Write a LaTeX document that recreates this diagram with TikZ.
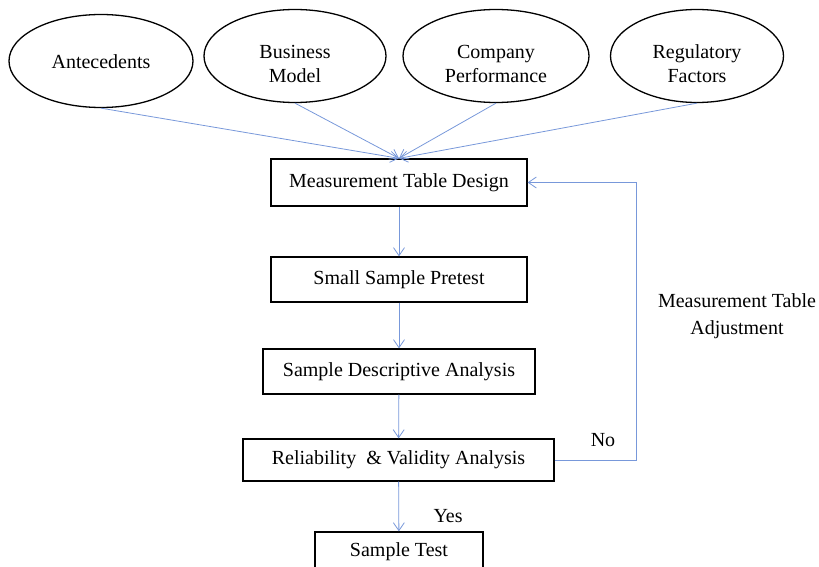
\documentclass[tikz,border=0pt]{standalone}
\usepackage{fontspec}
\setmainfont{Liberation Serif}
\usetikzlibrary{shapes.geometric,arrows.meta}
\definecolor{linkblue}{RGB}{120,152,218}
\newcommand\lowered{\rule{0pt}{30pt}}
\begin{document}
\begin{tikzpicture}[x=1pt,y=-1pt,
        factor/.style={draw, line width=1.3pt, ellipse, inner sep=0pt, minimum height=93pt, align=center, font=\fontsize{20}{24}\selectfont},
        stage/.style={draw, line width=1.3pt, inner sep=0pt, font=\fontsize{20}{24}\selectfont},
        link/.style={linkblue, line width=0.8pt, -{Straight Barb[length=8pt,width=11pt]}},
        note/.style={text=black, font=\fontsize{20}{24}\selectfont, align=center}]
            \useasboundingbox (0,0) rectangle (819,567);
            % factors
            \node[factor, minimum width=184pt] (ante) at (101,61) {\rule{0pt}{16pt}Antecedents};
            \node[factor, minimum width=182pt] (busi) at (295,56) {\lowered Business\\Model};
            \node[factor, minimum width=186pt] (perf) at (496,56) {\lowered Company\\Performance};
            \node[factor, minimum width=173pt] (regu) at (697,56) {\lowered Regulatory\\Factors};
            % stages
            \node[stage, minimum width=256pt, minimum height=47pt] (design) at (399,182.5) {Measurement Table Design};
            \node[stage, minimum width=256pt, minimum height=45pt] (pretest) at (399,279.5) {Small Sample Pretest};
            \node[stage, minimum width=272pt, minimum height=45pt] (descr) at (399,371.5) {Sample Descriptive Analysis};
            \node[stage, minimum width=311pt, minimum height=42pt] (relia) at (398.5,460) {Reliability \ \& Validity Analysis};
            \node[stage, minimum width=168pt, minimum height=40pt] (test) at (399,552) {Sample Test};
            \coordinate (loop) at (636,460);

            \foreach \f in {ante,busi,perf,regu}
                \draw[link] (\f.south) -- (design.north);
            \draw[link] (design) -- (pretest);
            \draw[link] (pretest) -- (descr);
            \draw[link] (descr) -- (relia);
            \draw[link] (relia) -- (test) node[note, pos=0.7, right=31pt] (yes) {Yes};
            \draw[link] (relia.east) -- (loop) |- (design.east);

            \node[note] (no) at (603,440) {No};
            \node[note, font=\fontsize{20}{27}\selectfont] (adjust) at (737,316) {Measurement Table\\Adjustment};
\end{tikzpicture}
\end{document}
